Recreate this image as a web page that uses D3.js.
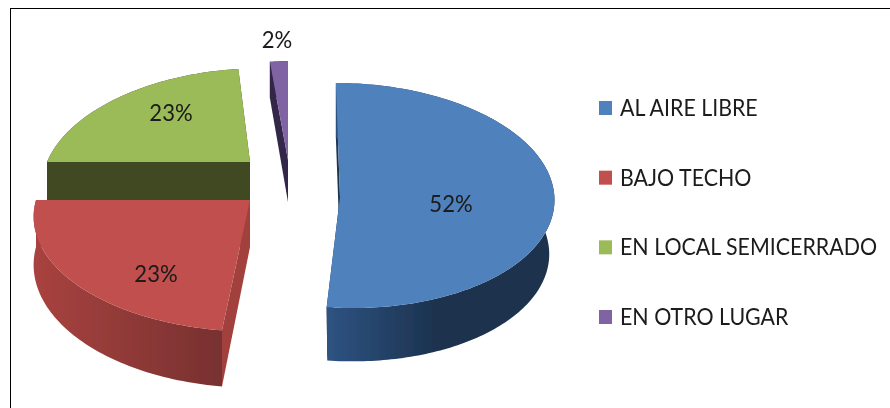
<!DOCTYPE html>
<html>
<head>
<meta charset="utf-8">
<script src="https://cdn.jsdelivr.net/npm/d3@7/dist/d3.min.js"></script>
<style>
html,body{margin:0;padding:0;background:#fff;overflow:hidden}
text{font-family:"Lato","Noto Sans",sans-serif;fill:#1a1a1a}
</style>
</head>
<body>
<svg id="c" width="890" height="408"></svg>
<script>
const categories = ["AL AIRE LIBRE","BAJO TECHO","EN LOCAL SEMICERRADO","EN OTRO LUGAR"];
const values = [52,23,23,2];
const topColors = ["#4f81bd","#c0504d","#9bbb59","#8064a2"];
const cutColors = ["#1d3450","#a23f3c","#3f4a24","#33264a"];
const wallFrom = ["#2f5585","#a8423f","#3f4a24","#33264a"];
const wallTo = ["#1b314d","#783130","#3f4a24","#33264a"];
// projected geometry of each exploded slice: apex, radii, perspective, skew, rim shift, depth, lower rim scale
const cxs = [340,250,250,288];
const cys = [197,200,162,160];
const rxs = [210,214,203,168];
const rys = [112.5,110,109,115];
const persp = [-0.013,0.164,0.164,0.164];
const skews = [-8.4,-3.4,12,0];
const shifts = [4.4,0,0,0];
const depths = [54,47,49,42];
const lowerScale = [0.975,1,1,1];
const labelX = [451,156,171,277];
const labelY = [212,282,121,48];

const svg = d3.select("#c");
svg.append("rect").attr("x",10.5).attr("y",8.5).attr("width",900).attr("height",420)
  .attr("fill","#fff").attr("stroke","#000").attr("stroke-width",1);

const defs=svg.append("defs");
defs.append("filter").attr("id","soft").append("feGaussianBlur").attr("stdDeviation",0.45);
const chart=svg.append("g").attr("filter","url(#soft)");

const arcs = d3.pie().sort(null).value(d=>d)(values);
const line = d3.line().x(d=>d[0]).y(d=>d[1]);

function proj(i,a,down){
  const u=Math.sin(a), v=Math.cos(a), w=1+persp[i]*v;
  const r=down?rxs[i]*lowerScale[i]:rxs[i];
  const x=cxs[i]+shifts[i]+(r*u+skews[i]*v)/w;
  const y=cys[i]-rys[i]*v/w+(down?depths[i]/w:0);
  return [x,y];
}
function rim(i,a0,a1,down){
  const n=Math.max(2,Math.ceil(Math.abs(a1-a0)/0.02));
  return d3.range(n+1).map(k=>proj(i,a0+(a1-a0)*k/n,down));
}
function apex(i,down){return [cxs[i],cys[i]+(down?depths[i]:0)];}

arcs.forEach((d,i)=>{
  const g=defs.append("linearGradient").attr("id","w"+i)
    .attr("gradientUnits","userSpaceOnUse")
    .attr("x1",i===0?cxs[i]-20:cxs[i]-rxs[i]).attr("x2",i===0?cxs[i]+100:cxs[i]-30).attr("y1",0).attr("y2",0);
  g.append("stop").attr("offset",0).attr("stop-color",wallFrom[i]);
  g.append("stop").attr("offset",1).attr("stop-color",wallTo[i]);
});

const order=[2,3,1,0];
order.forEach(i=>{
  const d=arcs[i], g=chart.append("g").attr("class","slice");
  const a0=d.startAngle,a1=d.endAngle;
  [a0,a1].forEach(a=>{
    g.append("path").attr("fill",cutColors[i])
      .attr("d",line([apex(i,false),proj(i,a,false),proj(i,a,true),apex(i,true)])+"Z");
  });
  g.append("path").attr("fill",`url(#w${i})`)
    .attr("d",line(rim(i,a0,a1,false).concat(rim(i,a1,a0,true)))+"Z");
  g.append("path").attr("fill",topColors[i])
    .attr("d",line([apex(i,false)].concat(rim(i,a0,a1,false)))+"Z");
});

arcs.forEach((d,i)=>{
  chart.append("text").attr("text-anchor","middle").attr("font-size",23.5)
    .attr("transform",`translate(${labelX[i]},${labelY[i]}) scale(0.94,1)`)
    .text(Math.round(d.value)+"%");
});

const ly=d3.scalePoint().domain(categories).range([108,317]);
const lg=chart.selectAll("g.leg").data(categories).join("g").attr("class","leg")
  .attr("transform",d=>`translate(0,${ly(d)})`);
lg.append("rect").attr("x",599).attr("y",-7).attr("width",13).attr("height",14)
  .attr("fill",(d,i)=>topColors[i]);
lg.append("text").attr("font-size",23).attr("transform","translate(620,8) scale(0.93,1)").text(d=>d);
</script>
</body>
</html>
